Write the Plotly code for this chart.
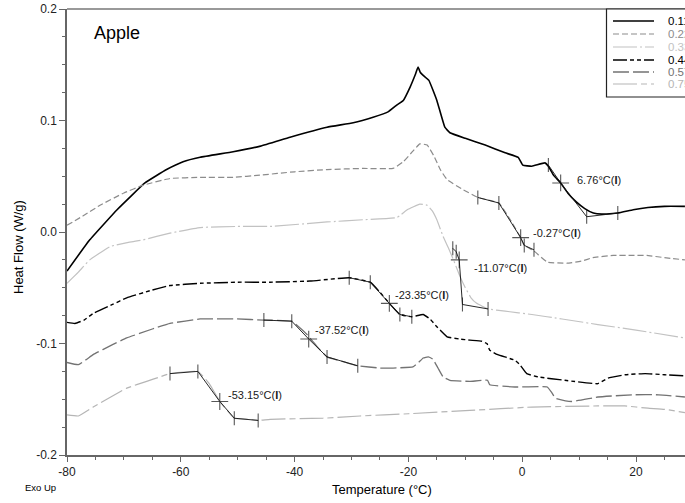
import plotly.graph_objects as go

# ---------------- data ----------------
SERIES_NAMES = ["0.11", "0.22", "0.33", "0.44", "0.57", "0.75"]

T1 = [-80, -76, -71.2, -66.3, -62.5, -59.6, -56.6, -50.8, -46, -40.8, -34.3, -29.7, -26.2, -23.5, -22.0,
      -20.9, -19.7, -18.8, -18.3, -17.9, -17.3, -16.4, -15.0, -13.6, -12.7, -10.0, -6.5, -3.0, -0.7, 0.1, 1.7,
      4.0, 4.6, 5.5, 6.76, 8.0, 9.5, 11.0, 12.5, 14.0, 16.8, 19.5, 22.1, 25, 28.6]
V1 = [-0.035, -0.007, 0.020, 0.044, 0.056, 0.063, 0.067, 0.072, 0.077, 0.085, 0.094, 0.098, 0.103, 0.108, 0.114,
      0.118, 0.130, 0.141, 0.148, 0.143, 0.140, 0.136, 0.118, 0.094, 0.089, 0.084, 0.078, 0.071, 0.067, 0.060, 0.059,
      0.062, 0.059, 0.051, 0.044, 0.035, 0.027, 0.021, 0.017, 0.016, 0.017, 0.020, 0.022, 0.023, 0.023]

T2 = [-80, -77, -74.2, -70, -66.6, -61.9, -56.6, -50.8, -46.1, -40, -34.3, -28, -22.7, -20.9, -19.3, -18.0,
      -16.7, -15.5, -14.4, -13.2, -10.4, -7.8, -4.1, -2.1, -0.27, 0.36, 2.07, 4.4, 7.9, 10.5, 12.4, 16.0,
      19.3, 21.9, 25, 28.6]
V2 = [0.006, 0.015, 0.024, 0.035, 0.042, 0.048, 0.049, 0.049, 0.051, 0.054, 0.056, 0.057, 0.057, 0.063, 0.072, 0.079,
      0.078, 0.068, 0.056, 0.047, 0.038, 0.031, 0.026, 0.011, -0.005, -0.012, -0.017, -0.027, -0.028, -0.026, -0.023, -0.021,
      -0.021, -0.021, -0.023, -0.025]

T3 = [-80, -78, -76, -72.4, -69, -66.6, -61.9, -56.6, -50, -44.3, -34.3, -28, -22.0, -20.2, -18.0, -16.7,
      -15.8, -15.0, -13.9, -13, -12, -11, -10, -9, -8, -6, -3, 1.7, 7, 13.3, 20, 28.6]
V3 = [-0.046, -0.036, -0.025, -0.013, -0.009, -0.007, -0.001, 0.004, 0.005, 0.005, 0.009, 0.011, 0.013, 0.020, 0.025, 0.024,
      0.019, 0.011, -0.004, -0.014, -0.026, -0.039, -0.050, -0.059, -0.064, -0.069, -0.071, -0.074, -0.078, -0.083, -0.088, -0.095]

T4 = [-80, -78.6, -77, -75.4, -72, -69.5, -65, -61.9, -56.6, -50, -44.3, -37.3, -30.4, -26.7, -25, -23.35,
      -21.5, -19.4, -17.4, -16.2, -15.0, -13.2, -11, -9.2, -7.1, -6.2, -5.7, -4.3, -1.3, -0.4, 0.8, 2.8, 7.5,
      13.3, 15.1, 18.1, 21.6, 25, 28.6]
V4 = [-0.081, -0.082, -0.079, -0.073, -0.065, -0.059, -0.052, -0.048, -0.046, -0.045, -0.045, -0.044, -0.041, -0.045, -0.054, -0.064,
      -0.074, -0.076, -0.074, -0.078, -0.085, -0.094, -0.096, -0.097, -0.098, -0.100, -0.106, -0.110, -0.115, -0.119, -0.127, -0.130, -0.133,
      -0.136, -0.131, -0.128, -0.127, -0.128, -0.129]

T5 = [-80, -78, -75.4, -72, -69.5, -65, -61.9, -56.6, -50.1, -45.4, -40.5, -38, -36, -34.3, -31, -28.9,
      -25, -22.7, -19.2, -18.2, -17.4, -16.5, -15.7, -14.8, -13.9, -12.7, -9.2, -6.1, -5.7, -1.3, 4.4, 5.2,
      5.8, 8.7, 13.3, 19.3, 24, 28.6]
V5 = [-0.117, -0.119, -0.110, -0.101, -0.095, -0.087, -0.082, -0.078, -0.078, -0.079, -0.080, -0.091, -0.103, -0.112, -0.117, -0.120,
      -0.122, -0.122, -0.121, -0.117, -0.113, -0.112, -0.114, -0.122, -0.130, -0.133, -0.134, -0.133, -0.137, -0.139, -0.139, -0.144,
      -0.149, -0.152, -0.148, -0.146, -0.146, -0.148]

T6 = [-80, -78, -75.4, -72, -69.5, -66, -63.7, -61.9, -57.0, -55, -53.15, -51, -50.6, -48, -46.4, -44.3,
      -35, -28.5, -20, -9.2, 1.7, 13.3, 18, 22.1, 25, 28.6]
V6 = [-0.164, -0.165, -0.157, -0.147, -0.140, -0.134, -0.130, -0.127, -0.125, -0.136, -0.152, -0.165, -0.167, -0.168, -0.169, -0.168,
      -0.167, -0.165, -0.163, -0.160, -0.157, -0.156, -0.156, -0.158, -0.159, -0.162]

# glass-transition analysis marks (tick = onset/end, cross = midpoint)
A1_T = [4.6, 6.76, 11.33, 16.8]
A1_V = [0.060, 0.044, 0.0137, 0.017]
A1_K = ["tick", "cross", "tick", "tick"]
A2_T = [-7.8, -4.1, -0.27, 0.36, 2.07]
A2_V = [0.031, 0.026, -0.005, -0.012, -0.016]
A2_K = ["tick", "tick", "cross", "tick", "tick"]
A3_T = [-12.2, -11.6, -11.07, -10.5, -6.0]
A3_V = [-0.0146, -0.0177, -0.025, -0.065, -0.069]
A3_K = ["tick", "tick", "cross", "tick", "tick"]
A4_T = [-30.4, -26.7, -23.35, -21.5, -19.4]
A4_V = [-0.041, -0.045, -0.064, -0.074, -0.076]
A4_K = ["tick", "tick", "cross", "tick", "tick"]
A5_T = [-45.4, -40.5, -37.52, -34.3, -28.9]
A5_V = [-0.079, -0.080, -0.096, -0.112, -0.120]
A5_K = ["tick", "tick", "cross", "tick", "tick"]
A6_T = [-61.9, -57.0, -53.15, -50.6, -46.4]
A6_V = [-0.127, -0.125, -0.152, -0.167, -0.169]
A6_K = ["tick", "tick", "cross", "tick", "tick"]

LABEL_TEXT = ["6.76°C(<b>I</b>)", "-0.27°C(<b>I</b>)", "-11.07°C(<b>I</b>)",
              "-23.35°C(<b>I</b>)", "-37.52°C(<b>I</b>)", "-53.15°C(<b>I</b>)"]
LABEL_T = [9.28, 1.55, -8.82, -22.71, -36.77, -52.06]
LABEL_V = [0.0466, -0.0009, -0.0323, -0.0565, -0.0879, -0.1462]

X_TICKS = [-80, -60, -40, -20, 0, 20]
X_TICK_LABELS = ["-80", "-60", "-40", "-20", "0", "20"]
Y_TICKS = [0.2, 0.1, 0.0, -0.1, -0.2]
Y_TICK_LABELS = ["0.2", "0.1", "0.0", "-0.1", "-0.2"]

# ---------------- styles ----------------
W, H = 685, 503
ML, MR, MT, MB = 67, 0, 9, 48
PW, PH = W - ML - MR, H - MT - MB
FONT = "Liberation Sans, Arial, sans-serif"

COLORS = ["#000000", "#8c8c8c", "#c2c2c2", "#000000", "#737373", "#b5b5b5"]
DASHES = ["solid", "6px,3px", "24px,3px,2px,3px", "14px,3px,4px,3px,4px,3px", "16px,4px", "24px,4px,6px,4px"]
WIDTHS = [1.6, 1.2, 1.2, 1.4, 1.3, 1.2]


def px_x(p):
    return (p - ML) / PW


def px_y(p):
    return (H - MB - p) / PH


fig = go.Figure()
curves = [(T1, V1), (T2, V2), (T3, V3), (T4, V4), (T5, V5), (T6, V6)]
for (t, v), c, d, w, n in zip(curves, COLORS, DASHES, WIDTHS, SERIES_NAMES):
    fig.add_trace(go.Scatter(x=t, y=v, mode="lines", name=n, showlegend=False,
                             line=dict(color=c, dash=d, width=w, shape="spline", smoothing=0.3)))

SYM = {"tick": "line-ns", "cross": "cross-thin"}
SIZE = {"tick": 10, "cross": 12}
for t, v, k in [(A1_T, A1_V, A1_K), (A2_T, A2_V, A2_K), (A3_T, A3_V, A3_K),
                (A4_T, A4_V, A4_K), (A5_T, A5_V, A5_K), (A6_T, A6_V, A6_K)]:
    fig.add_trace(go.Scatter(x=t, y=v, mode="lines+markers", showlegend=False,
                             line=dict(color="#111111", width=0.9),
                             marker=dict(symbol=[SYM[s] for s in k], size=[SIZE[s] for s in k],
                                         color="#111111", line=dict(color="#111111", width=1.1))))

annotations = []
for txt, t, v in zip(LABEL_TEXT, LABEL_T, LABEL_V):
    annotations.append(dict(x=t, y=v, xref="x", yref="y", text=txt, showarrow=False,
                            xanchor="left", yanchor="middle", font=dict(family=FONT, size=11, color="#1a1a1a")))

annotations += [
    dict(x=px_x(92), y=px_y(33), xref="paper", yref="paper", text="Apple", showarrow=False,
         xanchor="left", yanchor="middle", font=dict(family=FONT, size=18, color="#000")),
    dict(x=px_x(18), y=px_y(247), xref="paper", yref="paper", text="Heat Flow (W/g)", showarrow=False,
         textangle=-90, xanchor="center", yanchor="middle", font=dict(family=FONT, size=13, color="#000")),
    dict(x=px_x(382), y=px_y(489), xref="paper", yref="paper", text="Temperature (°C)", showarrow=False,
         xanchor="center", yanchor="middle", font=dict(family=FONT, size=13, color="#000")),
    dict(x=px_x(23), y=px_y(487), xref="paper", yref="paper", text="Exo Up", showarrow=False,
         xanchor="left", yanchor="middle", font=dict(family=FONT, size=9.5, color="#000")),
]

shapes = [
    dict(type="line", xref="paper", yref="paper", x0=0, x1=1, y0=1, y1=1,
         line=dict(color="#777777", width=1.5)),
    dict(type="rect", xref="paper", yref="paper", x0=px_x(606.5), x1=px_x(700), y0=px_y(97), y1=px_y(9),
         line=dict(color="#222222", width=1.2), fillcolor="rgba(255,255,255,1)", layer="above"),
]

LEG_Y = [21, 34, 47, 60, 72, 84]
for yy, c, d, w, n in zip(LEG_Y, COLORS, DASHES, WIDTHS, SERIES_NAMES):
    shapes.append(dict(type="line", xref="paper", yref="paper", x0=px_x(613), x1=px_x(654),
                       y0=px_y(yy), y1=px_y(yy), line=dict(color=c, dash=d, width=w), layer="above"))
    annotations.append(dict(x=px_x(666), y=px_y(yy), xref="paper", yref="paper", text=n, showarrow=False,
                            xanchor="left", yanchor="middle", font=dict(family=FONT, size=11.5, color=c)))

axis_common = dict(showline=True, linecolor="#666666", linewidth=1.5, ticks="outside", tickcolor="#666666",
                   tickwidth=1, showgrid=False, zeroline=False,
                   tickfont=dict(family=FONT, size=12, color="#222222"))

fig.update_layout(
    width=W, height=H, margin=dict(l=ML, r=MR, t=MT, b=MB, autoexpand=False),
    paper_bgcolor="white", plot_bgcolor="white",
    xaxis=dict(range=[-80, -80 + PW / 5.69], tickmode="array", tickvals=X_TICKS, ticktext=X_TICK_LABELS,
               ticklen=5, minor=dict(dtick=5, tick0=-80, ticklen=3, ticks="outside", tickcolor="#666666"),
               **axis_common),
    yaxis=dict(range=[-0.2, 0.2], tickmode="array", tickvals=Y_TICKS, ticktext=Y_TICK_LABELS,
               ticklen=6, minor=dict(dtick=0.025, tick0=-0.2, ticklen=3, ticks="outside", tickcolor="#666666"),
               **axis_common),
    annotations=annotations, shapes=shapes, showlegend=False,
)

fig.write_html("out.html")
